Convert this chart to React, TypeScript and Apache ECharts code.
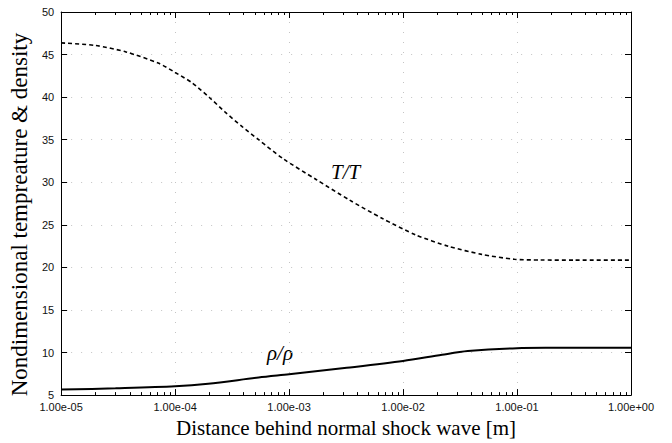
import React, { useEffect, useRef } from "react";
import * as echarts from "echarts";

// Temperature ratio behind the shock (dashed curve)
const tempDistance = [
  1e-5, 2e-5, 3.7e-5, 7.2e-5, 1e-4, 1.41e-4, 2e-4, 2.75e-4, 3.9e-4, 5.4e-4, 8.9e-4,
  1.74e-3, 3.4e-3, 6.6e-3, 1.29e-2, 2.5e-2, 4.9e-2, 9.5e-2, 1.6e-1, 3.2e-1, 1,
];
const tempRatio = [
  46.37, 46.07, 45.31, 43.97, 42.9, 41.68, 39.96, 38.24, 36.5, 35.0, 32.75,
  30.3, 27.9, 25.74, 23.82, 22.48, 21.53, 20.95, 20.87, 20.85, 20.85,
];

// Density ratio behind the shock (solid curve)
const densityDistance = [1e-5, 3e-5, 1e-4, 1.95e-4, 5.4e-4, 1e-3, 3.2e-3, 1e-2, 2.2e-2, 3.7e-2, 1e-1, 2e-1, 1];
const densityRatio = [5.65, 5.8, 6.03, 6.33, 7.07, 7.45, 8.2, 9.0, 9.74, 10.17, 10.51, 10.55, 10.56];

// Axis extents
const xMin = 1e-5;
const xMax = 1;
const yMin = 5;
const yMax = 50;
const yStep = 5;

// Minor ticks at 2..9 within each decade, as decade exponents
const decades = [-5, -4, -3, -2, -1];
const minorSteps = [2, 3, 4, 5, 6, 7, 8, 9];
const minorTickExps: number[] = [];
decades.forEach((d) => minorSteps.forEach((m) => minorTickExps.push(d + Math.log10(m))));

const formatExp = (v: number) => {
  const [mant, exp] = v.toExponential(2).split("e");
  const n = parseInt(exp, 10);
  return mant + "e" + (n < 0 ? "-" : "+") + String(Math.abs(n)).padStart(2, "0");
};

const sans = "Liberation Sans";
const serif = "Liberation Serif";

export default function App() {
  const ref = useRef<HTMLDivElement>(null);

  useEffect(() => {
    if (!ref.current) return;
    const chart = echarts.init(ref.current, null, { renderer: "svg" });

    const frameLine = { show: true, onZero: false, lineStyle: { color: "#000", width: 1 } };
    const grid = { show: true, lineStyle: { color: "#c4c4c4", width: 1, type: [1, 9] as number[] } };

    const logAxis = { type: "log" as const, logBase: 10, min: xMin, max: xMax, gridIndex: 0 };
    // helper axis in decade exponents, only carries the minor ticks
    const expAxis = {
      type: "value" as const,
      min: Math.log10(xMin),
      max: Math.log10(xMax),
      gridIndex: 0,
      axisLine: { show: false, onZero: false },
      axisLabel: { show: false },
      splitLine: { show: false },
      axisTick: { show: true, inside: true, length: 3, customValues: minorTickExps, lineStyle: { color: "#000" } },
    };

    chart.setOption({
      animation: false,
      backgroundColor: "#fff",
      grid: { left: 58, right: 41, top: 12, bottom: 39, containLabel: false },
      xAxis: [
        {
          ...logAxis,
          position: "bottom",
          axisLine: frameLine,
          axisTick: { show: true, inside: true, length: 6, lineStyle: { color: "#000" } },
          axisLabel: {
            show: true,
            formatter: formatExp,
            color: "#111",
            fontFamily: sans,
            fontSize: 11,
            margin: 6,
            showMinLabel: true,
            showMaxLabel: true,
          },
          splitLine: grid,
          name: "Distance behind normal shock wave [m]",
          nameLocation: "middle",
          nameGap: 18,
          nameTextStyle: { fontFamily: serif, fontSize: 21, color: "#000" },
        },
        { ...expAxis, position: "bottom" },
        {
          ...logAxis,
          position: "top",
          axisLine: frameLine,
          axisTick: { show: true, inside: true, length: 6, lineStyle: { color: "#000" } },
          axisLabel: { show: false },
          splitLine: { show: false },
        },
        { ...expAxis, position: "top" },
      ],
      yAxis: [
        {
          type: "value",
          position: "left",
          min: yMin,
          max: yMax,
          interval: yStep,
          axisLine: frameLine,
          axisTick: { show: true, inside: true, length: 6, lineStyle: { color: "#000" } },
          axisLabel: { color: "#111", fontFamily: sans, fontSize: 11, margin: 7 },
          splitLine: grid,
          name: "Nondimensional tempreature & density",
          nameLocation: "middle",
          nameGap: 26,
          nameTextStyle: { fontFamily: serif, fontSize: 23, color: "#000", padding: [0, 22, 0, 0] },
        },
        {
          type: "value",
          position: "right",
          min: yMin,
          max: yMax,
          interval: yStep,
          axisLine: frameLine,
          axisTick: { show: true, inside: true, length: 6, lineStyle: { color: "#000" } },
          axisLabel: { show: false },
          splitLine: { show: false },
        },
      ],
      series: [
        {
          name: "T/T",
          type: "line",
          xAxisIndex: 0,
          yAxisIndex: 0,
          data: tempDistance.map((x, i) => [x, tempRatio[i]]),
          showSymbol: false,
          smooth: 0.25,
          lineStyle: { color: "#000", width: 1.6, type: [4, 3] },
        },
        {
          name: "ρ/ρ",
          type: "line",
          xAxisIndex: 0,
          yAxisIndex: 0,
          data: densityDistance.map((x, i) => [x, densityRatio[i]]),
          showSymbol: false,
          smooth: 0.3,
          lineStyle: { color: "#000", width: 2 },
        },
      ],
      graphic: [
        {
          type: "text",
          left: 331,
          top: 161,
          style: { text: "T/T", font: `italic 21px "${serif}"`, fill: "#000" },
        },
        {
          type: "text",
          left: 267,
          top: 342,
          style: { text: "ρ/ρ", font: `italic 21px "${serif}"`, fill: "#000" },
        },
      ],
    });

    return () => chart.dispose();
  }, []);

  return (
    <div
      ref={ref}
      style={{ position: "fixed", left: 0, top: 0, width: 672, height: 443, background: "#fff" }}
    />
  );
}
